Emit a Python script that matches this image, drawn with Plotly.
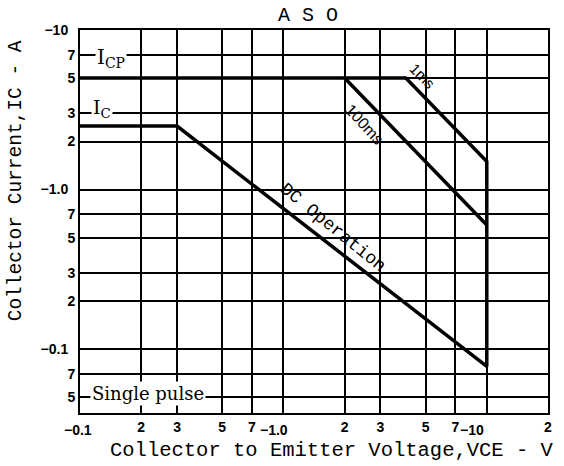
import math
import plotly.graph_objects as go

# ---- data ----
# DC operation: Ic limit then constant-power slope down to VCE = 10 V
dc_v = [0.1, 0.3, 10]
dc_i = [2.5, 2.5, 0.078]
# Icp pulse limit with 1 ms line and VCEO limit (vertical at 10 V)
ms1_v = [0.1, 4, 10, 10]
ms1_i = [5, 5, 1.5, 0.078]
# 100 ms pulse line
ms100_v = [2, 10]
ms100_i = [5, 0.6]

x_tickvals = [0.2, 0.3, 0.5, 0.7, 2, 3, 5, 7, 20]
x_ticktext = ["2", "3", "5", "7", "2", "3", "5", "7", "2"]
x_decades = [0.1, 1, 10]
x_decade_text = ["−0.1", "−1.0", "−10"]

y_tickvals = [0.05, 0.07, 0.1, 0.2, 0.3, 0.5, 0.7, 1, 2, 3, 5, 7, 10]
y_ticktext = ["5", "7", "−0.1\u2002", "2", "3", "5", "7", "−1.0\u2002", "2", "3", "5", "7", "−10\u2002"]

L = math.log10  # annotation positions on log axes are given in log units

line_style = dict(color="black", width=3.5)

fig = go.Figure()
fig.add_trace(go.Scatter(x=dc_v, y=dc_i, mode="lines", line=line_style, showlegend=False))
fig.add_trace(go.Scatter(x=ms1_v, y=ms1_i, mode="lines", line=line_style, showlegend=False))
fig.add_trace(go.Scatter(x=ms100_v, y=ms100_i, mode="lines", line=line_style, showlegend=False))

tick_font = dict(family="Liberation Sans Narrow, Liberation Sans, Arial", size=14, color="black", weight="bold")
mono = "Liberation Mono, DejaVu Sans Mono, monospace"
serif = "DejaVu Serif, Liberation Serif, serif"

fig.update_xaxes(type="log", range=[-1, 1.301], tickvals=x_tickvals, ticktext=x_ticktext,
                 showgrid=True, gridcolor="black", gridwidth=2, showline=True, linecolor="black",
                 linewidth=2, mirror=True, ticks="", tickfont=tick_font, zeroline=False,
                 minor=dict(tickvals=x_decades, showgrid=True, gridcolor="black", gridwidth=2, ticks=""))
fig.update_yaxes(type="log", range=[-1.4, 1], tickvals=y_tickvals, ticktext=y_ticktext,
                 showgrid=True, gridcolor="black", gridwidth=2, showline=True, linecolor="black",
                 linewidth=2, mirror=True, ticks="", tickfont=tick_font, zeroline=False)

ann = []
shifts = [-2, -9, -15]
for v, t, s in zip(x_decades, x_decade_text, shifts):
    ann.append(dict(x=L(v), y=0, xref="x", yref="paper", text=t, showarrow=False,
                    yanchor="middle", xanchor="center", yshift=-17, xshift=s, font=tick_font))

ann += [
    dict(x=0.538, y=-0.097, xref="paper", yref="paper", text="Collector to Emitter Voltage,VCE - V",
         showarrow=False, font=dict(family=mono, size=20.5, color="black"), xanchor="center", yanchor="middle"),
    dict(x=-0.138, y=0.606, xref="paper", yref="paper", text="Collector Current,IC - A",
         showarrow=False, textangle=-90, font=dict(family=mono, size=19.5, color="black"),
         xanchor="center", yanchor="middle"),
    dict(x=0.487, y=1.039, xref="paper", yref="paper", text="A S O", showarrow=False,
         font=dict(family=mono, size=20, color="black"), xanchor="center", yanchor="middle"),
    dict(x=L(0.118), y=L(7), xref="x", yref="y", text="I<sub>CP</sub>", showarrow=False,
         font=dict(family=serif, size=20, color="black"), xanchor="left", yanchor="middle",
         bgcolor="white", yshift=-3),
    dict(x=L(0.1135), y=L(2.5), xref="x", yref="y", text="I<sub>C</sub>", showarrow=False,
         font=dict(family=serif, size=19, color="black"), xanchor="left", yanchor="bottom",
         bgcolor="white", yshift=3),
    dict(x=L(0.112), y=L(0.053), xref="x", yref="y", text="Single pulse", showarrow=False,
         font=dict(family=serif, size=18, color="black"), xanchor="left", yanchor="middle",
         bgcolor="white"),
    dict(x=L(4.8), y=L(5.15), xref="x", yref="y", text="1ms", showarrow=False, textangle=45,
         font=dict(family="Liberation Sans, Arial", size=15, color="black")),
    dict(x=L(2.5), y=L(2.54), xref="x", yref="y", text="100ms", showarrow=False, textangle=47,
         font=dict(family="Liberation Sans, Arial", size=16, color="black")),
    dict(x=L(1.76), y=L(0.574), xref="x", yref="y", text="DC Operation", showarrow=False, textangle=39,
         font=dict(family=mono, size=18, color="black")),
]

fig.update_layout(width=564, height=466, margin=dict(l=80, r=14, t=30, b=53),
                  plot_bgcolor="white", paper_bgcolor="white", annotations=ann)

fig.write_html("out.html", config={"displayModeBar": False},
               post_script="document.body.style.margin='0';")
